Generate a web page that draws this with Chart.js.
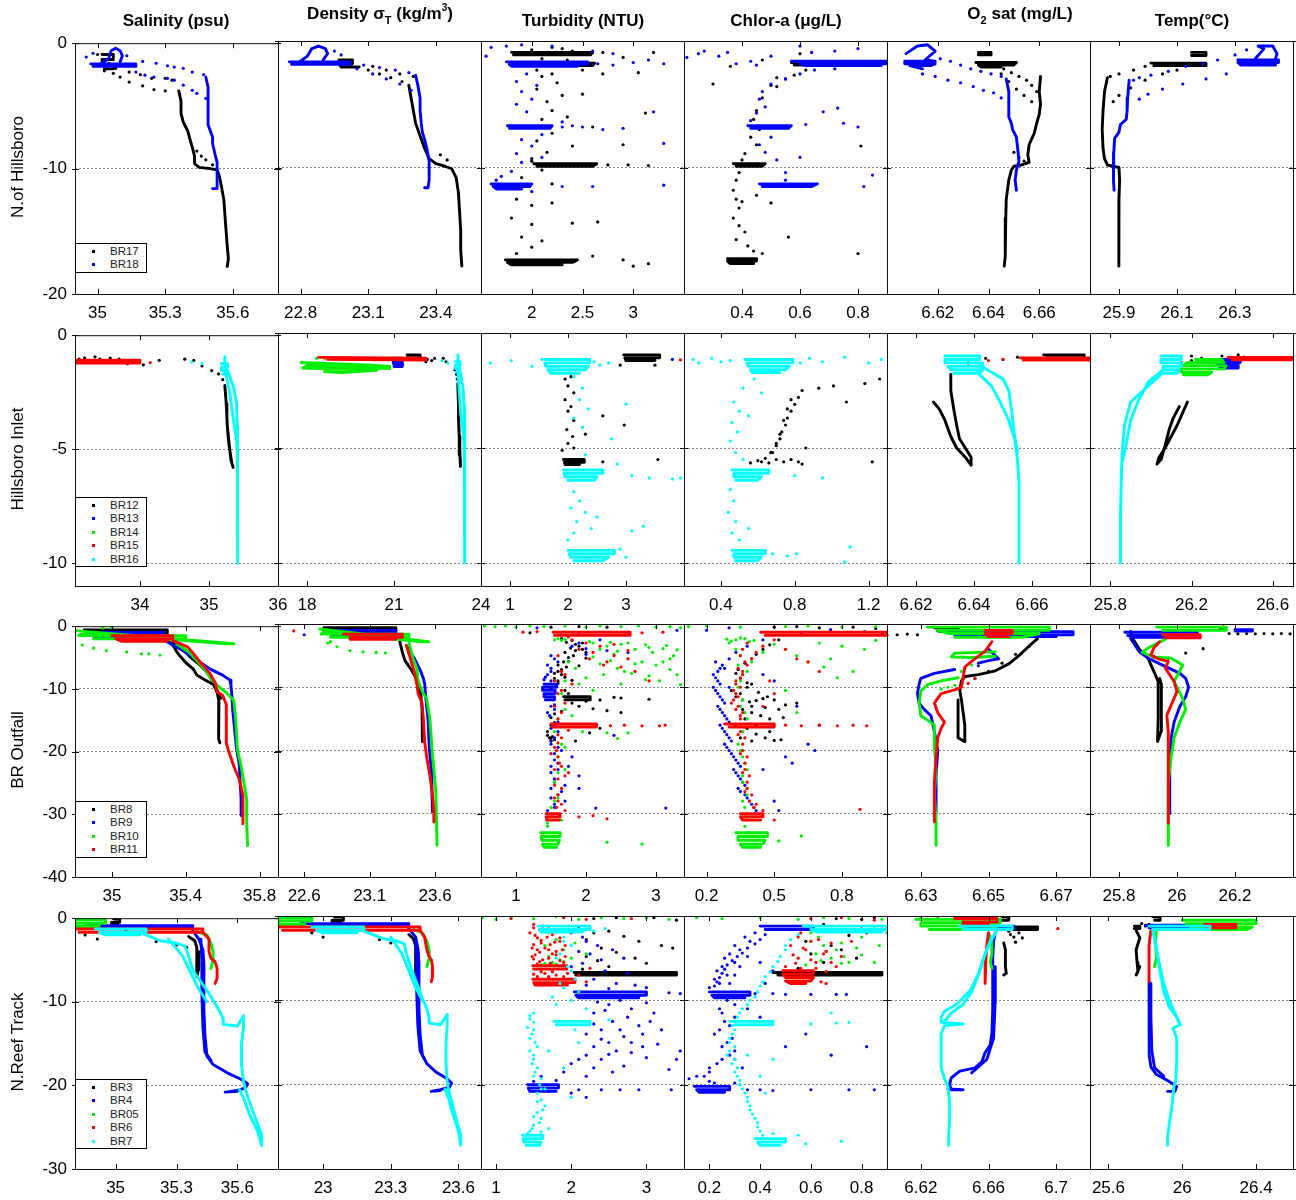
<!DOCTYPE html>
<html>
<head>
<meta charset="utf-8">
<script src="https://cdn.jsdelivr.net/npm/chart.js@4.4.1/dist/chart.umd.min.js"></script>
<style>
  body { margin: 0; background: #fff; }
  #fig { position: relative; width: 1296px; height: 1200px; font-family: "Liberation Sans", Arial, sans-serif; color: #000; overflow: hidden; }
  #fig canvas { position: absolute; }
  .head { position: absolute; z-index: 5; font-weight: bold; font-size: 17px; line-height: 20px; white-space: nowrap; transform: translateX(-50%); }
  .head sub { font-size: 11px; vertical-align: -5px; line-height: 0; }
  .head sup { font-size: 10px; vertical-align: 8px; line-height: 0; }
  .row-label { position: absolute; z-index: 5; font-size: 17px; white-space: nowrap; transform: translate(-50%, -50%) rotate(-90deg); }
  .legend { position: absolute; z-index: 5; left: 75px; width: 70px; border: 1px solid #000; background: #fff; padding-top: 1px; font-size: 11.5px; color: #222; }
  .legend div { position: relative; height: 13.4px; line-height: 13.4px; padding-left: 34px; }
  .legend i { position: absolute; left: 16px; top: 5px; width: 3px; height: 3px; }
</style>
</head>
<body>
<div id="fig">
  <div class="head" style="left:176px;top:11px">Salinity (psu)</div>
  <div class="head" style="left:380px;top:4px">Density σ<sub>T</sub> (kg/m<sup>3</sup>)</div>
  <div class="head" style="left:583px;top:11px">Turbidity (NTU)</div>
  <div class="head" style="left:786px;top:11px">Chlor-a (μg/L)</div>
  <div class="head" style="left:1020px;top:4px">O<sub>2</sub> sat (mg/L)</div>
  <div class="head" style="left:1192px;top:11px">Temp(°C)</div>

  <div class="row-label" style="left:18px;top:167px">N.of Hillsboro</div>
  <div class="row-label" style="left:18px;top:459px">Hillsboro Inlet</div>
  <div class="row-label" style="left:18px;top:750px">BR Outfall</div>
  <div class="row-label" style="left:18px;top:1042px">N.Reef Track</div>
</div>
<script>
// depth profiles, values as flat [x, depth, x, depth, ...] lists.
// "runs" are continuous CTD traces (drawn joined), "Dots" are loose samples.

// ---------- N. of Hillsboro: BR17, BR18 ----------
const br17Sal = [
  [35.02,-0.9, 35.07,-0.9, 35.07,-1.3, 35.02,-1.3, 35.02,-1.7, 35.07,-1.7, 35.07,-2.05, 35.03,-2.05],
  [35.36,-3.8, 35.37,-4.6, 35.37,-5.6, 35.38,-6.3, 35.40,-7.0, 35.41,-7.7, 35.42,-8.3, 35.43,-9.0, 35.43,-9.6, 35.45,-9.9, 35.50,-10.0, 35.53,-10.1, 35.54,-10.6, 35.55,-11.5, 35.56,-12.5, 35.565,-13.8, 35.57,-15.0, 35.575,-16.2, 35.58,-17.2, 35.575,-17.8]
];
const br17SalDots = [35.0,-0.9, 35.05,-1.6, 35.08,-2.0, 35.03,-2.2, 35.07,-2.4, 35.10,-2.7, 35.14,-3.1, 35.20,-3.4, 35.25,-3.7, 35.30,-3.8, 35.14,-2.3, 35.19,-2.5, 35.24,-2.8, 35.30,-2.8, 35.33,-2.95, 35.44,-8.6, 35.46,-9.0, 35.48,-9.3, 35.51,-9.7];
const br18Sal = [
  [34.97,-1.65, 35.17,-1.65, 35.17,-1.85, 34.98,-1.85],
  [35.02,-1.6, 35.05,-1.2, 35.06,-0.6, 35.08,-0.4, 35.1,-0.6, 35.11,-1.0, 35.1,-1.5],
  [35.48,-2.7, 35.49,-3.5, 35.49,-4.5, 35.49,-5.5, 35.49,-6.5, 35.50,-7.0, 35.51,-7.5, 35.51,-8.0, 35.52,-8.8, 35.53,-9.5, 35.53,-10.2, 35.53,-11.0, 35.53,-11.6, 35.51,-11.6]
];
const br18SalDots = [34.95,-1.1, 34.98,-0.8, 35.13,-1.0, 35.2,-1.45, 35.26,-1.6, 35.31,-1.8, 35.34,-1.9, 35.38,-2.0, 35.42,-2.3, 35.47,-2.5, 35.17,-2.3, 35.21,-2.55, 35.25,-2.7, 35.31,-2.8, 35.34,-2.95, 35.38,-3.35, 35.42,-3.75, 35.44,-4.0, 35.48,-4.4];

const br17Dens = [
  [22.97,-1.5, 23.03,-1.5, 23.03,-1.8, 22.97,-1.8, 22.98,-2.05, 23.06,-2.05],
  [23.28,-3.5, 23.29,-4.5, 23.30,-5.5, 23.31,-6.5, 23.33,-7.5, 23.35,-8.5, 23.37,-9.3, 23.40,-9.7, 23.44,-9.9, 23.47,-10.1, 23.49,-10.8, 23.50,-12.0, 23.505,-13.5, 23.51,-15.0, 23.51,-16.5, 23.515,-17.8]
];
const br17DensDots = [23.1,-2.3, 23.15,-2.6, 23.2,-2.9, 23.25,-3.2, 23.12,-2.0, 23.18,-2.3, 23.24,-2.6, 23.3,-2.8, 23.42,-9.0, 23.45,-9.4];
const br18Dens = [
  [22.75,-1.65, 23.02,-1.65, 23.02,-1.85, 22.76,-1.85],
  [22.8,-1.6, 22.83,-1.2, 22.85,-0.6, 22.88,-0.4, 22.91,-0.6, 22.92,-1.0, 22.9,-1.5],
  [23.31,-2.7, 23.32,-3.5, 23.33,-4.5, 23.33,-5.5, 23.335,-6.5, 23.34,-7.2, 23.35,-7.8, 23.36,-8.5, 23.37,-9.5, 23.37,-10.2, 23.37,-11.0, 23.365,-11.6, 23.35,-11.6]
];
const br18DensDots = [23.08,-1.9, 23.15,-2.1, 23.22,-2.3, 23.28,-2.5, 23.05,-2.2, 23.12,-2.6, 23.18,-3.0, 23.24,-3.4, 23.29,-3.9, 22.95,-0.8, 22.98,-1.1];

const br17Tur = [
  [1.8,-0.9, 2.6,-0.9, 2.58,-1.1, 1.82,-1.1],
  [1.8,-1.75, 2.62,-1.75, 2.6,-1.95, 1.85,-1.95],
  [2.02,-9.7, 2.64,-9.7, 2.6,-9.9, 2.05,-9.9],
  [1.74,-17.3, 2.45,-17.3, 2.4,-17.5, 1.76,-17.5, 1.8,-17.7, 2.3,-17.7]
];
const br17TurDots = [2.1,-2.8, 2.25,-3.3, 2.05,-3.8, 2.3,-4.3, 2.15,-4.8, 2.5,-4.2, 2.2,-5.5, 2.35,-6.0, 2.1,-6.2, 2.6,-6.8, 2.2,-7.3, 2.05,-7.9, 2.4,-8.3, 2.9,-8.2, 2.15,-8.8, 3.12,-5.7, 2.0,-9.3, 1.9,-10.8, 2.2,-11.3, 1.85,-12.5, 2.0,-13.0, 2.2,-12.8, 1.8,-14.0, 2.0,-14.5, 2.4,-14.4, 2.65,-14.3, 1.9,-15.5, 2.1,-15.8, 2.0,-16.3, 1.85,-16.8, 2.6,-17.0, 2.9,-17.3, 3.0,-17.8, 3.15,-17.6, 2.3,-0.6, 2.9,-1.3, 3.05,-2.5, 2.5,-2.3, 2.7,-2.6, 2.0,-0.7, 2.2,-0.5, 2.4,-0.8, 2.7,-0.9, 3.2,-0.9, 2.1,-1.4, 2.35,-1.5, 2.05,-2.3, 2.2,-2.6, 2.75,-9.8, 2.95,-9.8, 3.15,-9.85, 2.0,-9.5, 2.1,-10.2];
const br18Tur = [
  [1.75,-1.65, 2.55,-1.65, 2.55,-1.85, 1.78,-1.85, 1.8,-2.0, 2.45,-2.0],
  [1.76,-6.7, 2.2,-6.7, 2.18,-6.9, 1.78,-6.9],
  [1.6,-11.3, 2.0,-11.3, 1.98,-11.5, 1.62,-11.5, 1.65,-11.7, 1.9,-11.7]
];
const br18TurDots = [1.6,-0.5, 1.75,-0.4, 1.9,-0.3, 1.55,-1.2, 3.3,-1.8, 3.15,-1.5, 2.8,-1.0, 2.6,-0.8, 2.2,-0.4, 1.95,-2.6, 1.85,-3.2, 2.05,-3.5, 1.9,-4.0, 2.0,-4.6, 1.85,-5.0, 1.95,-5.6, 2.3,-6.4, 2.5,-6.8, 2.7,-7.0, 2.9,-6.9, 3.2,-5.6, 3.3,-8.1, 2.1,-7.4, 1.9,-7.8, 2.0,-8.3, 1.85,-8.9, 2.1,-9.2, 1.9,-9.6, 1.8,-10.3, 1.7,-10.7, 1.65,-11.0, 2.3,-11.5, 2.6,-11.5, 3.3,-11.4, 2.0,-11.9, 2.65,-1.8, 2.8,-1.9, 3.0,-1.7, 2.3,-6.8, 2.4,-6.7];

const br17Chl = [
  [0.57,-1.7, 0.70,-1.7, 0.70,-1.9, 0.58,-1.9],
  [0.37,-9.7, 0.48,-9.7, 0.47,-9.9, 0.38,-9.9],
  [0.35,-17.2, 0.45,-17.2, 0.45,-17.4, 0.35,-17.4, 0.36,-17.6, 0.44,-17.6]
];
const br17ChlDots = [0.6,-1.0, 0.62,-2.3, 0.58,-2.7, 0.55,-3.0, 0.52,-2.9, 0.5,-3.5, 0.47,-4.5, 0.45,-5.5, 0.44,-6.2, 0.46,-7.0, 0.43,-7.6, 0.45,-8.2, 0.41,-8.9, 0.40,-9.4, 0.39,-10.4, 0.38,-11.0, 0.37,-11.8, 0.38,-12.5, 0.39,-13.2, 0.37,-14.0, 0.39,-14.6, 0.41,-15.1, 0.38,-15.7, 0.42,-16.2, 0.44,-16.6, 0.47,-16.8, 0.40,-12.7, 0.45,-12.2, 0.5,-12.8, 0.56,-15.5, 0.80,-16.8, 0.81,-8.3, 0.52,-3.6, 0.3,-3.4, 0.36,-2.0, 0.47,-1.5];
const br18Chl = [
  [0.57,-1.6, 0.9,-1.6, 0.9,-1.8, 0.6,-1.8, 0.62,-1.95, 0.88,-1.95],
  [0.42,-6.7, 0.57,-6.7, 0.56,-6.9, 0.43,-6.9],
  [0.46,-11.3, 0.66,-11.3, 0.64,-11.5, 0.47,-11.5]
];
const br18ChlDots = [0.21,-1.3, 0.25,-1.0, 0.27,-0.8, 0.32,-1.2, 0.35,-0.9, 0.38,-1.8, 0.43,-1.6, 0.5,-1.2, 0.45,-1.9, 0.6,-0.4, 0.64,-0.9, 0.72,-0.8, 0.8,-0.6, 0.72,-2.2, 0.65,-2.3, 0.6,-2.6, 0.55,-3.0, 0.5,-3.4, 0.47,-4.0, 0.46,-4.6, 0.48,-5.2, 0.45,-5.7, 0.43,-6.3, 0.5,-7.6, 0.46,-8.2, 0.48,-8.8, 0.52,-9.4, 0.55,-10.4, 0.6,-9.2, 0.62,-6.6, 0.68,-5.6, 0.73,-5.3, 0.75,-6.5, 0.8,-6.8, 0.85,-10.6, 0.82,-11.5, 0.55,-11.0];

const br17O2 = [
  [6.636,-0.9, 6.641,-0.9, 6.641,-1.1, 6.636,-1.1],
  [6.635,-1.7, 6.651,-1.7, 6.65,-1.9, 6.636,-1.9, 6.637,-2.05, 6.645,-2.05],
  [6.6605,-2.8, 6.660,-4.0, 6.6605,-5.0, 6.660,-5.8, 6.659,-6.5, 6.658,-7.3, 6.656,-8.2, 6.6555,-9.0, 6.656,-9.6, 6.653,-9.8, 6.650,-9.9, 6.649,-10.2, 6.648,-11.0, 6.647,-12.5, 6.6468,-14.0, 6.6466,-15.5, 6.6466,-17.0, 6.6462,-17.8]
];
const br17O2Dots = [6.646,-2.2, 6.649,-2.5, 6.652,-2.8, 6.655,-3.1, 6.657,-3.5, 6.659,-4.0, 6.645,-2.6, 6.648,-3.2, 6.651,-3.8, 6.654,-4.3, 6.657,-4.8, 6.650,-8.8, 6.652,-9.2, 6.654,-9.5];
const br18O2 = [
  [6.6075,-1.0, 6.612,-0.4, 6.616,-0.3, 6.619,-0.8, 6.615,-1.5, 6.619,-1.6, 6.607,-1.6, 6.607,-1.8, 6.619,-1.8, 6.617,-1.95, 6.609,-1.95, 6.614,-2.2],
  [6.647,-3.0, 6.648,-4.0, 6.648,-5.0, 6.648,-6.0, 6.649,-6.5, 6.6495,-7.0, 6.651,-7.6, 6.6515,-8.5, 6.652,-9.5, 6.651,-10.2, 6.6505,-11.0, 6.651,-11.8]
];
const br18O2Dots = [6.621,-1.4, 6.625,-1.6, 6.629,-1.9, 6.633,-2.2, 6.637,-2.4, 6.641,-2.6, 6.645,-2.8, 6.614,-2.6, 6.619,-2.8, 6.624,-3.1, 6.629,-3.3, 6.634,-3.6, 6.638,-3.9, 6.642,-4.1, 6.645,-4.5];

const br17Temp = [
  [26.01,-1.75, 26.2,-1.75, 26.2,-1.95, 26.02,-1.95],
  [26.15,-0.9, 26.2,-0.9, 26.2,-1.15, 26.15,-1.15],
  [25.86,-2.9, 25.85,-4.0, 25.845,-5.5, 25.842,-7.0, 25.845,-8.5, 25.85,-9.3, 25.86,-9.8, 25.88,-9.9, 25.90,-10.0, 25.902,-11.0, 25.90,-12.5, 25.898,-14.0, 25.90,-15.5, 25.90,-17.0, 25.90,-17.8]
];
const br17TempDots = [25.99,-2.0, 25.95,-2.3, 25.9,-2.6, 25.87,-2.8, 26.1,-2.3, 26.05,-2.6, 25.99,-3.1, 25.94,-3.7, 25.9,-4.3, 25.88,-4.8];
const br18Temp = [
  [26.31,-1.5, 26.45,-1.5, 26.45,-1.7, 26.31,-1.7, 26.32,-1.9, 26.44,-1.9],
  [26.37,-1.4, 26.40,-0.6, 26.38,-0.4, 26.43,-0.4, 26.445,-1.0, 26.44,-1.4],
  [25.935,-3.1, 25.93,-4.5, 25.928,-5.5, 25.925,-6.2, 25.905,-6.6, 25.90,-7.2, 25.885,-7.7, 25.882,-8.8, 25.88,-10.0, 25.882,-11.0, 25.883,-11.8]
];
const br18TempDots = [26.34,-0.7, 26.30,-1.1, 26.24,-1.5, 26.19,-1.8, 26.13,-2.0, 26.07,-2.4, 26.01,-2.7, 25.97,-2.9, 25.95,-3.1, 26.27,-2.6, 26.2,-3.0, 26.12,-3.4, 26.05,-3.8, 26.0,-4.2, 25.97,-4.6];

// ---------- Hillsboro Inlet: BR12 - BR16 ----------
const br12Sal = [[35.23,-2.2, 35.25,-3.0, 35.26,-3.6, 35.27,-4.2, 35.29,-4.8, 35.31,-5.2, 35.33,-5.6, 35.35,-5.8, 35.32,-5.5, 35.3,-5.0, 35.28,-4.4, 35.26,-3.8]];
const br12SalDots = [33.12,-1.05, 33.2,-1.0, 33.28,-1.1, 33.35,-0.95, 33.42,-1.05, 33.5,-1.2, 33.57,-1.0, 33.62,-1.15, 33.7,-1.05, 33.82,-1.25, 33.9,-1.15, 34.05,-1.3, 34.28,-1.1, 34.65,-1.05, 34.78,-1.1, 34.9,-1.35, 35.04,-1.55, 35.14,-1.7, 35.2,-1.95];
const br15Sal = [[33.06,-1.1, 34.0,-1.1, 34.0,-1.22, 33.06,-1.22]];
const br15SalDots = [34.15,-1.2];
const br16Sal = [
  [35.18,-1.25, 35.27,-1.25, 35.27,-1.4, 35.18,-1.4, 35.18,-1.55, 35.26,-1.55, 35.25,-1.7, 35.2,-1.7],
  [35.22,-1.25, 35.23,-0.95],
  [35.24,-1.3, 35.3,-1.8, 35.36,-2.3, 35.40,-3.0, 35.41,-4.0, 35.415,-5.0, 35.415,-6.0, 35.415,-7.5, 35.415,-9.0, 35.415,-10.0],
  [35.24,-1.6, 35.3,-2.5, 35.33,-3.2, 35.37,-4.0, 35.40,-4.6, 35.41,-5.0]
];
const br16SalDots = [34.75,-1.18, 34.9,-1.25];

const br12Dens = [
  [21.45,-0.95, 21.9,-0.95, 21.9,-1.08, 21.45,-1.08],
  [23.2,-2.2, 23.22,-3.0, 23.23,-3.8, 23.25,-4.5, 23.27,-5.0, 23.28,-5.5, 23.29,-5.8, 23.27,-5.3, 23.25,-4.6, 23.22,-3.6]
];
const br12DensDots = [22.1,-1.25, 22.4,-1.1, 22.7,-1.1, 22.8,-1.25, 23.1,-1.6, 23.16,-1.8, 23.18,-2.0, 22.15,-1.15, 22.3,-1.2];
const br13Dens = [[20.98,-1.1, 21.3,-1.1, 21.3,-1.22, 20.98,-1.22, 20.98,-1.34, 21.3,-1.34, 21.28,-1.46, 21.0,-1.46]];
const br14Dens = [[17.8,-1.28, 20.2,-1.4, 20.85,-1.45, 20.85,-1.55, 18.0,-1.42, 17.85,-1.52, 20.4,-1.62, 19.2,-1.72, 18.6,-1.68]];
const br14DensDots = [18.33,-1.1, 18.6,-1.1, 18.9,-1.08];
const br15Dens = [[18.4,-1.06, 22.1,-1.1, 22.1,-1.18, 18.7,-1.14]];
const br16Dens = [
  [23.12,-1.25, 23.28,-1.25, 23.28,-1.4, 23.12,-1.4, 23.12,-1.55, 23.26,-1.55, 23.24,-1.7, 23.15,-1.7],
  [23.2,-1.25, 23.21,-0.95],
  [23.22,-1.3, 23.3,-1.8, 23.38,-2.4, 23.42,-3.2, 23.43,-4.0, 23.44,-5.0, 23.44,-6.5, 23.44,-8.0, 23.44,-10.0],
  [23.2,-1.6, 23.25,-2.5, 23.3,-3.5, 23.38,-4.3, 23.43,-5.0]
];
const br16DensDots = [22.65,-1.2, 22.85,-1.3];

const br12Tur = [
  [2.96,-0.95, 3.58,-0.95, 3.58,-1.08, 2.98,-1.08, 3.0,-1.2, 3.5,-1.2],
  [1.92,-5.5, 2.28,-5.5, 2.28,-5.62, 1.94,-5.62, 1.95,-5.72, 2.2,-5.72]
];
const br12TurDots = [2.9,-1.4, 3.5,-1.4, 2.05,-1.9, 2.0,-2.3, 2.1,-2.6, 1.95,-2.9, 2.05,-3.2, 2.0,-3.4, 2.1,-3.8, 1.98,-4.2, 2.08,-4.5, 2.0,-4.8, 1.9,-5.1, 2.1,-5.0, 2.6,-3.6, 2.97,-4.0, 2.3,-4.4, 3.55,-5.5, 2.6,-5.6, 1.95,-2.0];
const br13TurDots = [3.8,-1.15];
const br15TurDots = [3.94,-1.17];
const br16Tur = [
  [1.6,-1.15, 2.37,-1.15, 2.37,-1.3, 1.6,-1.3, 1.62,-1.45, 2.35,-1.45, 2.3,-1.6, 1.65,-1.6, 1.7,-1.75, 2.2,-1.75],
  [1.92,-5.95, 2.6,-5.95, 2.6,-6.1, 1.93,-6.1, 1.95,-6.25, 2.5,-6.25, 2.45,-6.4, 2.0,-6.4],
  [2.0,-9.45, 2.8,-9.45, 2.8,-9.6, 2.02,-9.6, 2.05,-9.75, 2.7,-9.75, 2.6,-9.9, 2.1,-9.9]
];
const br16TurDots = [0.66,-1.3, 1.02,-1.2, 1.38,-1.45, 1.55,-1.15, 2.45,-1.25, 2.55,-1.4, 2.7,-1.3, 2.1,-1.9, 2.25,-2.4, 2.2,-2.9, 2.35,-3.3, 2.1,-3.7, 2.25,-4.1, 3.0,-3.1, 2.75,-4.6, 2.3,-5.3, 2.85,-5.7, 3.1,-6.2, 3.4,-6.3, 3.8,-6.35, 3.94,-6.3, 2.1,-6.9, 2.2,-7.3, 2.05,-7.6, 2.3,-7.8, 2.5,-8.0, 2.15,-8.2, 2.4,-8.5, 2.1,-8.7, 3.3,-8.4, 3.1,-8.6, 2.0,-9.0, 2.9,-9.4, 3.0,-9.75, 2.35,-9.9];

const br12ChlDots = [0.84,-2.5, 0.82,-2.8, 0.80,-3.1, 0.78,-3.4, 0.76,-3.7, 0.75,-4.0, 0.73,-4.3, 0.72,-4.6, 0.70,-4.9, 0.68,-5.2, 0.64,-5.45, 0.6,-5.55, 0.56,-5.65, 0.78,-2.9, 0.76,-3.3, 0.74,-3.8, 0.72,-4.4, 0.7,-4.8, 0.67,-5.2, 0.62,-5.6, 0.66,-5.65, 0.70,-5.5, 0.74,-5.6, 0.78,-5.5, 0.82,-5.6, 0.84,-5.7, 0.93,-2.4, 1.01,-2.3, 1.08,-3.0, 1.18,-2.2, 1.26,-2.0, 0.86,-5.0, 1.22,-5.6];
const br16Chl = [
  [0.53,-1.15, 0.79,-1.15, 0.79,-1.3, 0.54,-1.3, 0.55,-1.45, 0.77,-1.45, 0.75,-1.6, 0.56,-1.6, 0.57,-1.72, 0.72,-1.72],
  [0.46,-5.95, 0.66,-5.95, 0.66,-6.1, 0.47,-6.1, 0.47,-6.25, 0.62,-6.25, 0.6,-6.4, 0.48,-6.4],
  [0.46,-9.45, 0.64,-9.45, 0.64,-9.6, 0.47,-9.6, 0.47,-9.75, 0.62,-9.75, 0.6,-9.9, 0.48,-9.9]
];
const br16ChlDots = [0.25,-1.15, 0.28,-1.3, 0.35,-1.1, 0.4,-1.25, 0.45,-1.2, 0.83,-1.3, 0.88,-1.1, 0.95,-1.25, 1.07,-1.05, 1.2,-1.3, 1.27,-1.15, 0.58,-2.0, 0.52,-2.4, 0.47,-3.0, 0.5,-3.4, 0.46,-3.9, 0.49,-4.3, 0.45,-4.7, 0.48,-5.2, 0.52,-5.5, 0.55,-3.6, 0.62,-2.6, 0.8,-6.2, 0.95,-6.3, 0.45,-6.8, 0.47,-7.3, 0.44,-7.8, 0.48,-8.2, 0.46,-8.7, 0.5,-9.0, 0.55,-8.5, 0.68,-9.6, 0.76,-9.7, 0.81,-9.6, 1.07,-9.95, 1.1,-9.3];

const br12O2 = [
  [6.664,-0.95, 6.678,-0.95, 6.678,-1.08, 6.665,-1.08],
  [6.632,-1.8, 6.632,-2.5, 6.633,-3.3, 6.634,-4.0, 6.635,-4.6, 6.637,-5.0, 6.639,-5.4, 6.639,-5.75, 6.637,-5.4, 6.634,-5.0, 6.632,-4.5, 6.630,-3.8, 6.628,-3.3, 6.626,-3.0]
];
const br12O2Dots = [6.644,-1.1, 6.65,-1.15, 6.655,-1.05, 6.66,-1.1, 6.638,-1.3];
const br15O2 = [[6.656,-1.08, 6.68,-1.08, 6.68,-1.18, 6.657,-1.18]];
const br15O2Dots = [6.65,-1.15, 6.645,-1.2];
const br16O2 = [
  [6.630,-1.0, 6.642,-1.0, 6.642,-1.15, 6.630,-1.15, 6.630,-1.3, 6.643,-1.3, 6.643,-1.45, 6.631,-1.45, 6.632,-1.6, 6.643,-1.6, 6.642,-1.75, 6.633,-1.75],
  [6.641,-1.7, 6.646,-2.3, 6.649,-3.0, 6.652,-3.8, 6.654,-4.6, 6.655,-5.5, 6.6555,-6.5, 6.6555,-8.0, 6.6555,-10.0],
  [6.642,-1.4, 6.650,-2.0, 6.652,-2.5, 6.653,-3.4, 6.654,-4.5, 6.655,-5.2]
];

const br12Temp = [[26.18,-3.0, 26.16,-3.4, 26.13,-4.0, 26.10,-4.5, 26.07,-5.0, 26.04,-5.4, 26.03,-5.7, 26.05,-5.5, 26.07,-4.9, 26.09,-4.2, 26.11,-3.7, 26.14,-3.2]];
const br12TempDots = [26.2,-1.0, 26.25,-1.1, 26.35,-1.0, 26.43,-0.95, 26.46,-1.05, 26.3,-1.15, 26.15,-1.3, 26.2,-1.2];
const br13Temp = [[26.32,-1.15, 26.44,-1.15, 26.44,-1.28, 26.32,-1.28, 26.33,-1.4, 26.43,-1.4, 26.43,-1.52, 26.34,-1.52]];
const br14Temp = [[26.22,-1.15, 26.35,-1.15, 26.36,-1.28, 26.18,-1.28, 26.16,-1.42, 26.37,-1.42, 26.36,-1.56, 26.15,-1.56, 26.15,-1.7, 26.3,-1.7, 26.28,-1.82, 26.16,-1.82]];
const br15Temp = [[26.38,-1.06, 26.7,-1.06, 26.7,-1.16, 26.4,-1.16]];
const br16Temp = [
  [26.05,-1.0, 26.15,-1.0, 26.15,-1.15, 26.05,-1.15, 26.05,-1.3, 26.15,-1.3, 26.15,-1.45, 26.06,-1.45, 26.06,-1.6, 26.14,-1.6, 26.13,-1.75, 26.06,-1.75],
  [26.05,-1.8, 26.0,-2.2, 25.95,-2.6, 25.9,-3.0, 25.87,-4.0, 25.86,-5.0, 25.855,-6.0, 25.85,-8.0, 25.85,-10.0],
  [26.06,-1.6, 25.99,-2.1, 25.94,-2.9, 25.9,-3.8, 25.875,-5.0, 25.86,-5.6]
];

// ---------- BR Outfall: BR8 - BR11 ----------
const br8Sal = [
  [34.85,-0.6, 35.3,-0.6, 35.3,-1.1, 34.88,-1.1, 34.9,-1.6, 35.25,-1.6],
  [35.3,-2.3, 35.33,-3.0, 35.35,-4.0, 35.37,-4.8, 35.40,-5.8, 35.44,-6.8, 35.46,-7.8, 35.5,-8.5, 35.55,-9.3, 35.57,-10.5, 35.58,-12.0, 35.58,-14.0, 35.575,-16.0, 35.58,-18.0, 35.585,-18.6],
  [35.33,-2.5, 35.38,-3.5, 35.42,-4.8, 35.47,-6.0, 35.52,-7.5, 35.56,-9.5, 35.59,-11.5]
];
const br9Sal = [
  [34.86,-1.0, 35.28,-1.0, 35.28,-1.5, 34.9,-1.5, 34.95,-1.9, 35.25,-1.9],
  [35.28,-2.2, 35.38,-3.8, 35.46,-5.4, 35.53,-6.8, 35.6,-7.8, 35.64,-8.6, 35.645,-9.5, 35.65,-11.0, 35.655,-13.5, 35.665,-16.5, 35.675,-19.5, 35.69,-22.0, 35.695,-25.0, 35.70,-27.5, 35.70,-30.2]
];
const br10Sal = [
  [34.8,-0.7, 35.66,-2.8, 35.62,-2.8, 34.85,-1.0, 34.82,-1.5, 35.4,-1.5, 35.4,-2.0, 34.9,-2.0],
  [35.35,-2.8, 35.42,-4.2, 35.47,-5.8, 35.51,-7.2, 35.54,-8.5, 35.58,-9.7, 35.62,-10.6, 35.66,-11.8, 35.67,-14.5, 35.675,-17.0, 35.68,-19.6, 35.70,-22.3, 35.715,-24.9, 35.73,-27.5, 35.73,-31.0, 35.735,-35.0]
];
const br10SalDots = [34.84,-3.0, 34.9,-3.5, 34.97,-3.9, 35.08,-4.1, 35.16,-4.4, 35.2,-4.4, 35.26,-4.6, 34.95,-0.3, 35.0,-0.2];
const br11Sal = [
  [35.0,-1.5, 35.33,-1.5, 35.33,-2.0, 35.02,-2.0, 35.05,-2.4, 35.3,-2.4],
  [35.33,-2.3, 35.41,-3.3, 35.44,-4.3, 35.48,-5.8, 35.53,-7.5, 35.56,-9.0, 35.57,-10.5, 35.6,-11.0, 35.62,-12.5, 35.62,-15.0, 35.62,-18.6, 35.63,-19.7, 35.66,-22.3, 35.69,-24.4, 35.71,-27.0, 35.71,-29.5, 35.71,-31.5]
];

const br8Dens = [
  [22.75,-0.6, 23.3,-0.6, 23.3,-1.1, 22.78,-1.1, 22.8,-1.6, 23.25,-1.6],
  [23.33,-2.8, 23.35,-4.5, 23.37,-5.8, 23.42,-7.3, 23.47,-9.1, 23.49,-11.0, 23.5,-13.5, 23.5,-16.0, 23.505,-18.6]
];
const br9Dens = [
  [22.75,-1.0, 23.3,-1.0, 23.3,-1.5, 22.8,-1.5, 22.85,-1.9, 23.3,-1.9],
  [23.38,-3.4, 23.44,-5.4, 23.49,-7.5, 23.51,-8.6, 23.52,-9.5, 23.53,-12.0, 23.545,-15.0, 23.555,-19.5, 23.57,-23.0, 23.575,-26.5, 23.58,-29.7]
];
const br9DensDots = [22.6,-1.7];
const br10Dens = [
  [22.72,-0.8, 23.55,-2.8, 23.5,-2.8, 22.75,-1.2, 22.73,-1.6, 23.4,-1.6, 23.4,-2.1, 22.8,-2.1],
  [23.40,-3.0, 23.43,-5.4, 23.46,-7.0, 23.47,-9.0, 23.5,-10.6, 23.535,-11.8, 23.56,-15.0, 23.575,-19.5, 23.59,-23.0, 23.605,-26.5, 23.61,-31.0, 23.615,-35.0]
];
const br10DensDots = [22.78,-3.0, 22.85,-3.6, 22.95,-4.2, 23.05,-4.4, 23.15,-4.5, 23.22,-4.6, 22.8,-2.8];
const br11Dens = [
  [22.9,-1.6, 23.35,-1.6, 23.35,-2.1, 22.95,-2.1, 22.95,-2.4, 23.3,-2.4],
  [23.38,-3.4, 23.41,-5.4, 23.44,-7.5, 23.46,-9.5, 23.47,-11.0, 23.5,-12.5, 23.51,-15.0, 23.52,-18.6, 23.535,-21.0, 23.56,-24.0, 23.58,-27.0, 23.59,-29.5, 23.59,-31.3]
];
const br11DensDots = [22.52,-1.1];

const br8Tur = [[1.68,-11.5, 2.06,-11.5, 2.06,-12.0, 1.7,-12.0]];
const br8TurDots = [1.2,-1.4, 1.5,-0.5, 1.9,-0.4, 2.3,-0.5, 1.65,-2.3, 1.72,-2.9, 1.85,-3.2, 1.78,-3.8, 1.95,-4.0, 1.7,-4.5, 1.82,-5.0, 2.0,-5.4, 1.75,-5.9, 1.6,-6.5, 1.9,-6.6, 1.65,-7.2, 1.55,-7.8, 1.7,-8.4, 1.8,-8.9, 1.6,-9.4, 1.5,-10.2, 2.4,-11.6, 2.5,-11.7, 2.9,-11.9, 2.1,-13.4, 2.3,-13.7, 2.5,-14.0, 1.5,-14.8, 1.55,-15.6, 1.45,-17.6, 1.5,-18.1, 1.55,-18.3, 1.48,-18.0, 1.52,-17.8, 1.85,-18.5, 2.05,-17.2, 2.2,-16.5, 1.75,-2.0, 1.8,-2.6, 1.9,-3.5, 2.0,-4.5, 1.95,-3.0, 1.85,-4.2, 1.75,-5.3, 1.68,-6.0, 1.72,-6.8, 1.6,-7.5, 1.65,-8.0, 1.55,-8.6, 1.6,-9.0, 1.7,-10.5, 1.75,-11.0, 1.8,-12.5, 1.9,-13.0, 1.65,-13.8, 1.55,-14.2, 1.5,-16.0, 1.45,-17.0, 1.5,-18.5, 2.0,-12.2, 2.2,-12.0];
const br9Tur = [[1.4,-9.5, 1.58,-9.5, 1.58,-10.0, 1.38,-10.0, 1.38,-10.5, 1.56,-10.5, 1.56,-11.0, 1.4,-11.0, 1.4,-11.5, 1.55,-11.5, 1.55,-12.0, 1.42,-12.0]];
const br9TurDots = [1.3,-0.6, 1.9,-1.5, 2.6,-1.3, 3.3,-1.0, 1.8,-3.5, 2.0,-3.9, 2.3,-4.2, 2.6,-4.5, 1.6,-6.0, 1.5,-7.0, 1.45,-8.0, 1.4,-8.8, 1.55,-13.5, 1.48,-14.5, 1.6,-15.5, 2.4,-17.6, 1.5,-19.0, 1.55,-20.5, 1.6,-22.0, 1.75,-22.5, 1.5,-23.5, 1.55,-25.0, 1.9,-24.0, 1.65,-26.5, 1.5,-27.5, 1.55,-28.5, 1.45,-29.5, 2.14,-29.1, 3.14,-29.1, 1.9,-26.0, 1.7,-28.0, 1.8,-21.0, 1.5,-5.0, 1.55,-5.5, 1.45,-6.5, 1.5,-7.5, 1.42,-8.4, 1.5,-9.0, 1.55,-12.8, 1.5,-13.0, 1.45,-14.0, 1.55,-16.0, 1.5,-16.5, 1.6,-17.0, 1.55,-18.0, 1.5,-18.5, 1.6,-19.5, 1.55,-21.5, 1.5,-22.5, 1.6,-23.0, 1.55,-24.5, 1.5,-26.0, 1.6,-27.0, 1.55,-29.0, 1.65,-20.0, 1.7,-25.5, 2.0,-4.8, 1.9,-3.0, 2.2,-2.5];
const br10Tur = [[1.35,-33.0, 1.63,-33.0, 1.63,-33.6, 1.36,-33.6, 1.37,-34.2, 1.62,-34.2, 1.6,-34.8, 1.38,-34.8, 1.4,-35.3, 1.58,-35.3]];
const br10TurDots = [0.55,-0.3, 0.7,-0.4, 0.85,-0.3, 1.0,-0.5, 1.2,-0.3, 1.4,-0.4, 1.7,-0.3, 2.0,-0.5, 2.2,-0.3, 2.5,-0.4, 2.75,-0.3, 3.0,-0.5, 3.2,-0.4, 3.35,-0.6, 1.6,-2.3, 1.55,-2.5, 1.7,-2.4, 1.65,-2.6, 2.1,-3.0, 2.3,-3.5, 2.5,-3.2, 2.7,-4.0, 2.9,-3.7, 3.1,-3.9, 3.3,-4.1, 2.4,-4.8, 2.6,-5.5, 2.8,-6.0, 3.0,-6.5, 3.2,-7.2, 2.2,-6.3, 2.45,-7.0, 2.65,-7.8, 2.9,-8.2, 3.35,-9.6, 2.0,-8.5, 1.9,-9.5, 1.65,-11.0, 1.7,-13.5, 1.8,-14.5, 1.95,-17.0, 2.3,-17.2, 2.6,-17.2, 2.45,-18.1, 1.65,-19.0, 1.6,-21.0, 1.7,-23.0, 1.55,-25.0, 1.6,-27.5, 1.5,-29.0, 1.65,-31.0, 1.45,-32.0, 2.3,-34.5, 2.8,-34.8, 2.05,-2.8, 2.35,-2.9, 2.6,-3.0, 2.85,-3.3, 3.15,-3.4, 2.2,-4.0, 2.45,-4.3, 2.95,-4.5, 3.25,-5.0, 2.1,-5.2, 2.35,-5.8, 2.7,-6.3, 3.1,-6.0, 2.55,-7.5, 2.85,-8.8, 3.05,-9.0, 2.25,-8.0, 2.5,-9.5, 3.3,-8.0, 3.2,-5.5, 1.75,-6.0, 1.85,-7.0, 1.7,-9.0, 2.1,-10.5, 1.6,-15.0, 1.55,-17.0, 1.7,-19.5, 1.6,-23.5, 1.65,-26.0, 1.55,-28.0, 1.5,-30.0, 1.45,-31.5];
const br11Tur = [
  [1.53,-1.3, 2.63,-1.3, 2.63,-1.8, 1.55,-1.8],
  [1.5,-15.8, 2.15,-15.8, 2.15,-16.3, 1.52,-16.3],
  [1.43,-30.0, 1.63,-30.0, 1.63,-30.5, 1.43,-30.5, 1.44,-31.0, 1.62,-31.0]
];
const br11TurDots = [1.1,-1.3, 1.3,-1.2, 2.8,-1.4, 3.1,-1.3, 1.9,-4.0, 2.1,-4.5, 2.4,-5.0, 2.6,-5.5, 2.3,-6.0, 2.5,-6.8, 2.7,-7.5, 2.9,-9.0, 1.6,-5.0, 1.65,-7.5, 1.55,-9.0, 1.6,-11.0, 1.7,-12.5, 1.65,-14.0, 2.35,-16.1, 2.55,-16.0, 2.8,-16.1, 3.05,-16.1, 3.13,-16.0, 1.6,-17.5, 1.55,-19.5, 1.6,-21.0, 1.65,-22.5, 1.7,-24.0, 1.55,-25.5, 1.6,-27.0, 1.65,-28.5, 1.9,-30.5, 2.1,-30.3, 2.3,-30.8, 1.5,-20.5, 1.75,-23.5, 1.75,-2.0, 1.8,-2.5, 2.0,-3.0, 2.2,-3.5, 2.4,-3.2, 2.6,-4.2, 2.05,-5.5, 2.25,-6.5, 1.7,-8.0, 1.8,-9.5, 1.65,-10.5, 1.55,-13.0, 1.6,-15.0, 1.75,-16.8, 1.65,-18.0, 1.6,-18.8, 1.58,-20.0, 1.62,-22.0, 1.55,-23.0, 1.6,-24.5, 1.65,-26.0, 1.55,-27.5, 1.6,-28.0, 1.58,-29.0, 1.7,-29.5];

const br8ChlDots = [0.5,-0.5, 0.6,-0.4, 0.7,-0.6, 0.85,-0.5, 0.95,-0.7, 0.52,-2.5, 0.48,-3.3, 0.45,-4.0, 0.42,-4.8, 0.40,-5.5, 0.37,-6.2, 0.34,-7.2, 0.33,-7.8, 0.35,-8.6, 0.38,-9.3, 0.31,-10.5, 0.33,-11.5, 0.36,-12.0, 0.39,-12.3, 0.42,-12.1, 0.45,-11.8, 0.36,-13.5, 0.4,-14.0, 0.44,-14.5, 0.48,-15.0, 0.38,-16.5, 0.42,-17.4, 0.46,-18.0, 0.5,-18.4, 0.52,-13.5, 0.54,-14.8, 0.6,-12.5, 0.35,-18.0, 0.33,-16.0, 0.4,-9.5, 0.38,-10.0, 0.43,-10.8, 0.47,-11.5, 0.5,-12.0, 0.35,-11.0, 0.4,-13.0, 0.46,-13.2, 0.55,-12.8, 0.37,-15.0, 0.42,-16.0, 0.48,-17.0, 0.53,-18.3, 0.4,-18.5];
const br9ChlDots = [0.2,-1.0, 0.3,-0.6, 0.62,-1.4, 0.75,-0.9, 0.9,-1.2, 0.98,-1.6, 0.45,-2.5, 0.38,-3.5, 0.33,-4.5, 0.3,-5.5, 0.27,-6.5, 0.25,-7.5, 0.24,-8.5, 0.26,-9.5, 0.24,-10.5, 0.26,-11.5, 0.28,-12.5, 0.26,-13.5, 0.28,-14.5, 0.3,-15.5, 0.27,-16.5, 0.29,-17.5, 0.31,-18.5, 0.29,-19.5, 0.31,-20.5, 0.33,-21.5, 0.35,-22.5, 0.33,-23.5, 0.35,-24.5, 0.37,-25.5, 0.35,-26.5, 0.38,-27.5, 0.4,-28.5, 0.42,-29.5, 0.55,-21.0, 0.58,-22.0, 0.45,-23.0, 0.5,-28.0, 0.52,-29.5, 0.3,-10.0, 0.28,-7.0, 0.7,-16.0, 0.24,-6.0, 0.26,-7.0, 0.23,-8.0, 0.25,-9.0, 0.23,-10.0, 0.25,-11.0, 0.27,-12.0, 0.25,-13.0, 0.27,-14.0, 0.29,-15.0, 0.26,-16.0, 0.28,-17.0, 0.3,-18.0, 0.28,-19.0, 0.3,-20.0, 0.32,-21.0, 0.34,-22.0, 0.32,-23.0, 0.34,-24.0, 0.36,-25.0, 0.34,-26.0, 0.37,-27.0, 0.39,-28.0, 0.41,-29.0, 0.45,-8.0, 0.5,-9.0, 0.6,-13.0, 0.65,-19.0, 0.68,-20.0];
const br10Chl = [[0.33,-33.0, 0.47,-33.0, 0.47,-33.6, 0.34,-33.6, 0.34,-34.2, 0.46,-34.2, 0.45,-34.8, 0.35,-34.8, 0.36,-35.3, 0.44,-35.3]];
const br10ChlDots = [0.12,-0.4, 0.2,-0.3, 0.35,-0.5, 0.55,-0.4, 0.65,-0.3, 0.8,-0.5, 0.95,-0.4, 0.29,-2.4, 0.33,-2.5, 0.37,-2.3, 0.41,-2.6, 0.31,-2.7, 0.35,-2.2, 0.39,-2.8, 0.5,-3.2, 0.55,-4.0, 0.6,-5.0, 0.65,-6.0, 0.72,-6.8, 0.78,-8.5, 0.85,-7.5, 0.45,-4.5, 0.4,-6.0, 0.38,-7.5, 0.35,-9.0, 0.33,-11.0, 0.35,-13.0, 0.38,-15.0, 0.36,-17.0, 0.34,-19.0, 0.36,-21.0, 0.38,-23.0, 0.36,-25.0, 0.38,-27.0, 0.37,-29.0, 0.38,-31.0, 0.6,-14.0, 0.62,-33.5, 0.52,-34.3, 0.55,-10.5, 0.3,-3.0, 0.33,-4.0, 0.35,-5.0, 0.34,-6.5, 0.36,-8.0, 0.34,-10.0, 0.36,-12.0, 0.37,-14.0, 0.35,-16.0, 0.37,-18.0, 0.35,-20.0, 0.37,-22.0, 0.36,-24.0, 0.38,-26.0, 0.36,-28.0, 0.38,-30.0, 0.37,-32.0, 0.7,-3.0, 0.8,-3.5, 0.9,-4.0, 0.75,-5.5, 0.95,-2.6];
const br11Chl = [
  [0.44,-1.3, 1.0,-1.3, 1.0,-1.8, 0.46,-1.8],
  [0.28,-15.8, 0.5,-15.8, 0.5,-16.3, 0.3,-16.3],
  [0.35,-30.0, 0.45,-30.0, 0.45,-30.5, 0.35,-30.5, 0.36,-31.0, 0.44,-31.0]
];
const br11ChlDots = [0.5,-2.5, 0.45,-3.5, 0.42,-4.5, 0.4,-5.5, 0.55,-4.0, 0.6,-5.5, 0.38,-6.5, 0.36,-7.5, 0.35,-8.5, 0.33,-9.5, 0.32,-10.5, 0.34,-11.5, 0.31,-12.5, 0.33,-13.5, 0.35,-14.5, 0.55,-16.0, 0.62,-16.1, 0.7,-16.0, 0.78,-16.1, 0.85,-16.0, 0.91,-16.1, 0.34,-17.5, 0.36,-19.0, 0.35,-20.5, 0.37,-22.0, 0.36,-23.5, 0.38,-25.0, 0.37,-26.5, 0.39,-28.0, 0.41,-29.0, 0.88,-29.3, 0.5,-31.0, 0.65,-6.0, 0.7,-7.5, 0.38,-3.0, 0.36,-4.0, 0.35,-5.0, 0.37,-6.0, 0.34,-7.0, 0.36,-8.0, 0.33,-9.0, 0.35,-10.0, 0.33,-11.0, 0.32,-12.0, 0.34,-13.0, 0.36,-14.0, 0.35,-15.0, 0.35,-17.0, 0.37,-18.0, 0.36,-20.0, 0.38,-21.0, 0.37,-23.0, 0.39,-24.0, 0.38,-26.0, 0.4,-27.0, 0.42,-28.5, 0.45,-29.5, 0.48,-9.0, 0.5,-11.0, 0.45,-13.0];

const br8O2 = [
  [6.634,-0.6, 6.641,-0.6, 6.641,-1.1, 6.635,-1.1],
  [6.6645,-2.3, 6.663,-3.0, 6.661,-4.0, 6.659,-5.0, 6.656,-6.3, 6.652,-7.4, 6.647,-8.0, 6.643,-8.3, 6.642,-9.0, 6.6415,-10.5, 6.642,-12.0, 6.6425,-14.0, 6.643,-16.0, 6.643,-18.0, 6.643,-18.6, 6.641,-18.0, 6.641,-15.0, 6.641,-12.0]
];
const br8O2Dots = [6.620,-1.7, 6.623,-1.7, 6.626,-1.6, 6.629,-1.7, 6.662,-3.5, 6.658,-4.8, 6.654,-6.2, 6.650,-7.5, 6.646,-8.6, 6.642,-9.2];
const br9O2 = [
  [6.636,-1.2, 6.675,-1.2, 6.675,-1.7, 6.64,-1.7, 6.645,-2.0, 6.67,-2.0],
  [6.650,-4.0, 6.652,-5.0, 6.653,-5.5, 6.65,-5.8, 6.647,-6.2],
  [6.640,-7.2, 6.634,-7.8, 6.630,-8.6, 6.6295,-9.5, 6.629,-11.0, 6.6295,-12.5, 6.631,-13.5, 6.633,-14.5, 6.634,-17.0, 6.635,-20.0, 6.6345,-24.0, 6.6345,-28.0, 6.6345,-30.0]
];
const br9O2Dots = [6.647,-6.6, 6.643,-7.0];
const br10O2 = [
  [6.632,-0.5, 6.668,-0.5, 6.668,-1.0, 6.635,-1.0, 6.638,-1.5, 6.665,-1.5, 6.66,-2.1, 6.64,-2.1],
  [6.652,-4.4, 6.640,-4.6, 6.639,-5.2, 6.645,-5.3, 6.652,-5.1],
  [6.641,-8.5, 6.636,-9.0, 6.632,-9.6, 6.630,-10.6, 6.6295,-12.5, 6.630,-14.5, 6.632,-15.2, 6.634,-16.0, 6.634,-19.0, 6.6345,-23.0, 6.634,-27.0, 6.6345,-31.0, 6.6345,-35.0]
];
const br10O2Dots = [6.64,-9.7, 6.638,-10.0, 6.636,-10.3, 6.645,-6.5, 6.642,-7.5];
const br11O2 = [
  [6.649,-1.0, 6.657,-1.0, 6.657,-1.5, 6.649,-1.5, 6.65,-2.0, 6.656,-2.0],
  [6.651,-2.8, 6.649,-4.3, 6.645,-5.9, 6.643,-6.8, 6.6425,-8.5, 6.642,-10.0, 6.640,-10.4, 6.636,-11.0, 6.634,-12.5, 6.635,-14.0, 6.637,-15.5, 6.636,-16.5, 6.635,-18.0, 6.6345,-21.0, 6.634,-25.0, 6.634,-29.0, 6.634,-31.3]
];
const br11O2Dots = [6.646,-8.6, 6.644,-9.4];

const br8Temp = [[25.84,-1.2, 25.85,-2.5, 25.87,-4.0, 25.90,-5.4, 25.925,-8.0, 25.935,-9.1, 25.935,-12.0, 25.935,-15.0, 25.933,-18.6, 25.945,-17.0, 25.947,-13.0, 25.945,-9.5, 25.94,-8.6]];
const br8TempDots = [25.88,-4.5, 25.92,-5.2, 25.97,-5.4, 26.03,-4.6, 26.09,-3.9, 26.15,-0.8, 26.16,-0.5, 26.18,-1.5, 26.21,-1.55, 26.24,-1.5, 26.27,-1.55, 26.30,-1.5, 26.33,-1.55, 26.36,-1.5, 26.39,-1.55];
const br9Temp = [
  [25.82,-1.3, 26.07,-1.3, 26.07,-1.8, 25.83,-1.8, 25.85,-2.1, 26.0,-2.1],
  [26.2,-0.9, 26.26,-0.9, 26.26,-1.1, 26.2,-1.1],
  [25.84,-2.3, 25.87,-4.4, 25.9,-5.4, 25.95,-6.5, 26.01,-7.8, 26.03,-8.6, 26.04,-10.0, 26.03,-11.5, 26.01,-13.0, 25.99,-15.5, 25.98,-18.0, 25.975,-22.0, 25.975,-26.0, 25.975,-30.0]
];
const br10Temp = [
  [25.93,-0.5, 26.17,-0.5, 26.17,-1.0, 25.95,-1.0],
  [25.96,-2.4, 25.9,-3.8, 25.88,-4.5, 25.92,-5.2, 25.98,-5.4, 26.02,-6.5, 25.99,-9.1, 26.02,-11.8, 26.03,-13.5, 26.01,-15.5, 25.99,-18.0, 25.98,-21.0, 25.97,-25.0, 25.97,-30.0, 25.97,-35.0]
];
const br11Temp = [
  [25.95,-1.7, 26.08,-1.7, 26.08,-2.2, 25.96,-2.2],
  [25.94,-2.8, 25.92,-3.8, 25.91,-4.9, 25.935,-5.5, 25.97,-5.9, 25.96,-7.0, 25.99,-9.1, 26.0,-10.7, 25.98,-12.8, 25.965,-14.4, 25.97,-17.0, 25.97,-20.0, 25.97,-25.0, 25.97,-31.5]
];

// ---------- N. Reef Track: BR3 - BR7 ----------
const br3Sal = [
  [34.99,-0.1, 35.02,-0.1, 35.02,-0.5, 34.98,-0.5, 34.98,-0.8, 35.01,-0.8],
  [35.36,-2.2, 35.39,-2.7, 35.40,-3.5, 35.40,-4.5, 35.40,-5.5, 35.40,-6.5, 35.40,-7.0, 35.41,-6.0, 35.41,-4.0]
];
const br3SalDots = [34.85,-2.0, 34.91,-2.5, 35.05,-1.5, 35.2,-2.8, 35.3,-3.2, 35.35,-3.5];
const br4Sal = [
  [34.85,-0.9, 35.38,-0.9, 35.38,-1.2, 34.9,-1.2],
  [35.38,-1.5, 35.41,-2.5, 35.43,-3.8, 35.435,-5.5, 35.435,-8.5, 35.435,-11.0, 35.44,-14.0, 35.45,-16.5, 35.48,-17.5, 35.55,-18.5, 35.62,-19.3, 35.65,-19.8, 35.64,-20.3, 35.6,-20.6, 35.54,-20.8, 35.6,-20.7],
  [35.42,-2.5, 35.425,-5.0, 35.425,-9.0, 35.43,-13.0, 35.44,-16.0, 35.47,-17.0]
];
const br5Sal = [
  [34.8,-0.2, 34.95,-0.2, 34.95,-0.6, 34.8,-0.6, 34.8,-1.0, 34.92,-1.0],
  [35.4,-1.6, 35.45,-2.0, 35.47,-3.0, 35.48,-4.0, 35.48,-5.0, 35.47,-6.0]
];
const br6Sal = [
  [34.8,-1.3, 35.43,-1.3, 35.43,-1.7, 34.82,-1.7],
  [35.43,-1.7, 35.46,-2.5, 35.46,-4.0, 35.47,-4.8, 35.49,-5.2, 35.5,-6.0, 35.5,-7.2, 35.49,-7.8]
];
const br7Sal = [
  [34.9,-1.3, 35.15,-1.3, 35.15,-1.7, 34.92,-1.7, 34.95,-2.0, 35.12,-2.0],
  [35.13,-1.8, 35.22,-2.7, 35.3,-3.0, 35.34,-3.3, 35.36,-4.5, 35.38,-6.2, 35.42,-7.6, 35.46,-9.0, 35.48,-9.8, 35.51,-11.0, 35.53,-12.0, 35.53,-12.7, 35.6,-12.9, 35.63,-11.7],
  [35.63,-11.7, 35.63,-13.0, 35.62,-15.0, 35.62,-17.5, 35.63,-19.5, 35.64,-20.5, 35.66,-22.0, 35.69,-24.0, 35.72,-26.0, 35.72,-27.2, 35.7,-25.5, 35.66,-23.5, 35.63,-21.5, 35.61,-20.5],
  [35.26,-2.5, 35.33,-4.5, 35.37,-6.5, 35.41,-8.5, 35.45,-10.0]
];

const br3Dens = [
  [23.05,-0.1, 23.09,-0.1, 23.09,-0.5, 23.04,-0.5, 23.04,-0.8, 23.08,-0.8],
  [23.38,-2.2, 23.40,-2.7, 23.41,-3.5, 23.41,-4.5, 23.41,-5.5, 23.41,-6.5, 23.41,-7.0, 23.42,-6.0, 23.42,-4.0]
];
const br3DensDots = [22.95,-2.0, 23.0,-2.5, 23.1,-1.7, 23.25,-2.8, 23.3,-3.2];
const br4Dens = [
  [22.9,-0.9, 23.38,-0.9, 23.38,-1.2, 22.95,-1.2],
  [23.38,-1.5, 23.41,-2.5, 23.42,-3.8, 23.425,-5.5, 23.425,-8.5, 23.425,-11.0, 23.43,-14.0, 23.44,-16.5, 23.46,-17.5, 23.5,-18.5, 23.55,-19.3, 23.57,-19.8, 23.56,-20.3, 23.52,-20.6, 23.48,-20.8, 23.52,-20.7],
  [23.41,-2.5, 23.415,-5.0, 23.415,-9.0, 23.42,-13.0, 23.43,-16.0, 23.45,-17.0]
];
const br5Dens = [
  [22.8,-0.2, 22.95,-0.2, 22.95,-0.6, 22.8,-0.6, 22.8,-1.0, 22.92,-1.0],
  [23.4,-1.6, 23.44,-2.0, 23.46,-3.0, 23.47,-4.0, 23.47,-5.0, 23.46,-6.0]
];
const br6Dens = [
  [22.8,-1.3, 23.43,-1.3, 23.43,-1.7, 22.82,-1.7],
  [23.43,-1.7, 23.45,-2.5, 23.46,-4.0, 23.47,-4.8, 23.48,-5.2, 23.485,-6.0, 23.485,-7.2, 23.48,-7.8]
];
const br7Dens = [
  [22.95,-1.3, 23.18,-1.3, 23.18,-1.7, 22.97,-1.7, 23.0,-2.0, 23.15,-2.0],
  [23.18,-1.8, 23.27,-2.7, 23.33,-3.0, 23.36,-3.3, 23.37,-4.5, 23.39,-6.2, 23.41,-7.6, 23.43,-9.0, 23.44,-9.8, 23.46,-11.0, 23.47,-12.0, 23.47,-12.7, 23.52,-12.9, 23.55,-11.7],
  [23.55,-11.7, 23.55,-13.0, 23.545,-15.0, 23.545,-17.5, 23.55,-19.5, 23.555,-20.5, 23.57,-22.0, 23.59,-24.0, 23.61,-26.0, 23.61,-27.2, 23.6,-25.5, 23.575,-23.5, 23.555,-21.5, 23.54,-20.5],
  [23.3,-2.5, 23.35,-4.5, 23.38,-6.5, 23.41,-8.5, 23.44,-10.0]
];

const br3Tur = [[2.04,-6.7, 3.4,-6.7, 3.4,-7.0, 2.06,-7.0]];
const br3TurDots = [1.9,-0.1, 2.3,-0.3, 2.6,-0.2, 3.1,-0.2, 3.4,-0.5, 2.1,-1.5, 2.3,-2.0, 2.5,-1.8, 2.2,-2.8, 2.7,-2.4, 2.9,-3.0, 3.2,-3.5, 2.4,-3.8, 2.6,-4.3, 2.2,-4.8, 2.85,-5.0, 3.0,-5.6, 2.35,-5.3, 2.5,-6.0, 2.15,-6.3, 3.35,-3.8];
const br4Tur = [
  [2.04,-9.0, 3.0,-9.0, 3.0,-9.4, 2.06,-9.4, 2.1,-9.7, 2.9,-9.7],
  [1.42,-20.0, 1.83,-20.0, 1.83,-20.4, 1.43,-20.4, 1.45,-20.8, 1.8,-20.8]
];
const br4TurDots = [2.0,-2.0, 2.2,-3.0, 2.1,-4.2, 2.4,-5.2, 2.0,-6.0, 2.3,-7.5, 2.6,-8.0, 3.0,-8.5, 3.3,-9.1, 3.45,-9.2, 2.5,-10.5, 2.8,-11.0, 2.3,-11.5, 3.1,-11.5, 2.55,-12.5, 2.9,-13.0, 2.4,-13.5, 3.2,-13.5, 2.2,-14.0, 2.7,-14.3, 2.5,-15.0, 2.3,-15.5, 2.95,-15.5, 2.6,-16.0, 2.2,-16.5, 3.0,-16.8, 2.4,-17.0, 3.4,-17.0, 2.0,-17.5, 2.7,-17.8, 2.3,-18.0, 3.3,-18.2, 1.9,-18.5, 1.6,-19.0, 1.5,-19.6, 2.1,-20.6, 2.4,-20.6, 2.65,-20.6, 2.9,-20.6, 3.33,-20.6, 2.2,-21.5, 3.45,-16.0, 2.15,-2.5, 2.35,-3.5, 2.55,-4.0, 2.25,-4.5, 2.7,-5.0, 2.15,-5.6, 2.45,-6.5, 2.75,-6.8, 2.2,-8.2, 2.5,-8.6, 2.85,-8.2, 2.35,-10.2, 2.65,-10.0, 3.0,-10.3, 2.45,-11.2, 2.75,-12.0, 3.05,-12.5, 2.3,-12.8, 2.65,-13.5, 2.95,-14.0, 2.4,-14.6, 2.8,-15.0, 3.15,-15.2, 2.5,-16.4, 2.8,-16.2, 2.1,-17.0, 2.55,-18.5, 2.2,-19.0, 1.8,-19.5, 1.7,-20.8, 2.0,-21.0];
const br5TurDots = [0.82,-0.2, 1.0,-0.4, 1.2,-0.2, 1.5,-0.3, 1.8,-0.1, 2.1,-0.4, 2.4,-0.2, 2.7,-0.3, 3.0,-0.2, 3.3,-0.4, 1.7,-2.0, 1.8,-2.8, 1.65,-3.5, 1.9,-4.0, 1.7,-4.8, 1.85,-5.2, 1.65,-5.6, 1.75,-5.5, 1.8,-5.7, 1.9,-5.4, 1.6,-5.8, 2.0,-5.0, 2.2,-4.5, 2.05,-3.2];
const br6Tur = [
  [1.49,-5.9, 1.94,-5.9, 1.94,-6.3, 1.5,-6.3],
  [1.49,-7.5, 2.05,-7.5, 2.05,-7.9, 1.5,-7.9, 1.52,-8.2, 1.95,-8.2]
];
const br6TurDots = [1.2,-0.3, 1.9,-0.2, 2.2,-0.4, 2.8,-0.3, 1.5,-1.4, 1.6,-1.8, 1.75,-2.2, 1.55,-2.6, 1.85,-3.0, 1.5,-3.4, 1.65,-3.8, 1.8,-4.2, 1.52,-4.6, 1.7,-5.0, 1.58,-5.4, 1.9,-5.5, 1.6,-2.9, 1.72,-3.4, 1.55,-4.0, 1.8,-4.6, 1.5,-5.1, 1.65,-6.8, 1.8,-7.0, 1.55,-7.2, 1.95,-6.8, 1.62,-1.2, 1.45,-2.0, 1.5,-1.0, 1.58,-1.6, 1.7,-1.5, 1.8,-1.9, 1.52,-2.3, 1.68,-2.5, 1.85,-2.6, 1.6,-3.2, 1.78,-3.1, 1.92,-3.5, 1.48,-3.8, 1.7,-4.0, 1.88,-4.0, 1.58,-4.3, 1.75,-4.5, 1.92,-4.8, 1.48,-4.8, 1.62,-5.2, 1.85,-5.3, 1.55,-5.7, 1.72,-5.6, 1.9,-5.9, 1.6,-6.6, 1.75,-6.6, 1.9,-7.2, 1.7,-7.2, 1.5,-6.9, 2.1,-7.0, 2.2,-7.8, 2.25,-6.2];
const br7Tur = [
  [1.56,-1.2, 2.25,-1.2, 2.25,-1.6, 1.58,-1.6, 1.6,-1.9, 2.15,-1.9],
  [1.77,-12.5, 2.25,-12.5, 2.25,-12.9, 1.8,-12.9],
  [1.35,-26.0, 1.62,-26.0, 1.62,-26.4, 1.36,-26.4, 1.37,-26.8, 1.6,-26.8, 1.58,-27.2, 1.4,-27.2]
];
const br7TurDots = [2.3,-1.8, 2.45,-1.5, 1.9,-2.5, 2.0,-3.5, 1.85,-4.5, 1.95,-6.0, 2.05,-7.5, 1.9,-8.5, 1.75,-9.6, 1.8,-10.5, 1.5,-11.5, 1.45,-12.2, 1.5,-13.5, 1.45,-14.5, 1.55,-15.5, 1.5,-16.5, 1.48,-17.5, 1.52,-18.5, 1.6,-19.3, 1.55,-21.0, 1.6,-21.8, 1.65,-22.5, 1.55,-23.3, 1.6,-24.0, 1.5,-24.8, 1.45,-25.5, 1.7,-25.2, 2.0,-21.5, 2.1,-15.0, 2.2,-11.0, 2.0,-10.0, 1.7,-16.0, 1.9,-18.0, 2.5,-12.3, 1.65,-20.5, 1.45,-11.8, 1.5,-12.6, 1.42,-13.2, 1.48,-14.0, 1.52,-15.0, 1.45,-16.0, 1.5,-17.0, 1.55,-18.0, 1.5,-19.0, 1.58,-20.0, 1.6,-20.5, 1.55,-22.0, 1.62,-23.0, 1.5,-23.8, 1.58,-24.5, 1.48,-25.2, 1.42,-25.8, 1.6,-25.6, 1.9,-3.0, 1.8,-5.0, 2.0,-6.5, 1.85,-8.0, 2.1,-9.0, 1.95,-12.9, 2.05,-13.5];

const br3Chl = [[0.45,-6.7, 0.88,-6.7, 0.88,-7.0, 0.47,-7.0]];
const br3ChlDots = [0.7,-0.3, 0.8,-0.4, 0.85,-0.2, 0.65,-1.0, 0.75,-2.3, 0.82,-2.0, 0.68,-3.5, 0.72,-4.0, 0.78,-5.0, 0.6,-4.5, 0.65,-5.5, 0.55,-6.2, 0.58,-3.0];
const br4Chl = [
  [0.4,-1.2, 0.61,-1.2, 0.61,-1.6, 0.42,-1.6],
  [0.2,-9.0, 0.36,-9.0, 0.36,-9.4, 0.21,-9.4, 0.22,-9.7, 0.34,-9.7],
  [0.14,-20.2, 0.28,-20.2, 0.28,-20.6, 0.15,-20.6, 0.16,-20.9, 0.26,-20.9]
];
const br4ChlDots = [0.38,-2.0, 0.34,-2.5, 0.36,-3.0, 0.3,-3.5, 0.32,-4.0, 0.28,-4.5, 0.26,-5.0, 0.3,-5.5, 0.25,-6.0, 0.23,-6.5, 0.27,-7.0, 0.22,-7.5, 0.24,-8.0, 0.2,-8.5, 0.4,-5.5, 0.45,-6.5, 0.42,-8.0, 0.38,-9.2, 0.45,-9.2, 0.5,-9.3, 0.6,-9.3, 0.7,-9.3, 0.74,-9.3, 0.3,-10.5, 0.25,-11.5, 0.28,-13.0, 0.22,-14.0, 0.27,-15.0, 0.3,-16.0, 0.25,-17.0, 0.33,-18.0, 0.2,-18.5, 0.15,-19.0, 0.12,-19.3, 0.2,-19.6, 0.35,-20.6, 0.4,-20.6, 0.45,-20.7, 0.6,-20.6, 0.75,-20.6, 0.85,-20.6, 0.5,-15.5, 0.68,-16.5, 0.58,-14.0, 0.82,-15.5, 0.42,-2.2, 0.4,-2.8, 0.38,-3.3, 0.35,-3.8, 0.33,-4.4, 0.31,-4.8, 0.29,-5.3, 0.27,-5.8, 0.26,-6.3, 0.25,-6.8, 0.24,-7.3, 0.23,-7.8, 0.22,-8.3, 0.35,-4.8, 0.32,-6.0, 0.3,-7.0, 0.28,-8.0, 0.27,-10.0, 0.24,-11.0, 0.3,-12.0, 0.26,-12.5, 0.24,-13.5, 0.29,-14.5, 0.25,-15.5, 0.28,-16.5, 0.23,-17.5, 0.3,-17.0, 0.2,-18.0, 0.18,-19.0, 0.22,-19.8, 0.3,-19.8, 0.35,-11.0, 0.4,-12.0];
const br5ChlDots = [0.15,-0.2, 0.25,-0.3, 0.4,-0.2, 0.55,-0.4, 0.65,-0.2, 0.75,-0.3, 0.88,-0.4, 0.6,-3.0, 0.65,-3.5, 0.7,-4.0, 0.62,-4.5, 0.68,-5.0, 0.75,-5.5, 0.85,-5.5, 0.58,-5.8, 0.7,-1.8, 0.8,-2.5, 0.9,-2.0, 0.72,-5.6, 0.63,-2.5, 0.72,-3.2, 0.78,-3.8, 0.66,-4.2, 0.8,-4.6, 0.73,-4.8, 0.87,-3.5, 0.64,-5.3, 0.6,-2.0, 0.85,-1.5];
const br6Chl = [[0.49,-6.5, 0.61,-6.5, 0.61,-6.9, 0.49,-6.9, 0.5,-7.3, 0.61,-7.3, 0.6,-7.7, 0.5,-7.7, 0.52,-8.0, 0.58,-8.0]];
const br6ChlDots = [0.6,-0.3, 0.72,-0.2, 0.85,-0.5, 0.55,-2.5, 0.6,-3.0, 0.52,-3.5, 0.58,-4.0, 0.65,-4.5, 0.55,-5.0, 0.62,-5.5, 0.7,-6.0, 0.8,-1.5, 0.88,-1.2, 0.5,-6.0, 0.56,-6.2, 0.64,-7.8, 0.66,-8.0, 0.56,-2.0, 0.63,-2.8, 0.68,-3.2, 0.57,-3.8, 0.66,-4.2, 0.53,-4.6, 0.6,-5.2, 0.68,-5.5, 0.54,-5.6, 0.72,-4.8, 0.76,-3.0, 0.62,-6.2, 0.66,-6.6];
const br7Chl = [
  [0.57,-1.2, 0.9,-1.2, 0.9,-1.6, 0.6,-1.6, 0.62,-1.9, 0.88,-1.9],
  [0.28,-12.5, 0.45,-12.5, 0.45,-12.9, 0.3,-12.9],
  [0.38,-26.4, 0.5,-26.4, 0.5,-26.8, 0.39,-26.8, 0.4,-27.2, 0.48,-27.2]
];
const br7ChlDots = [0.55,-2.2, 0.5,-3.5, 0.48,-4.8, 0.45,-6.0, 0.42,-7.2, 0.4,-8.3, 0.38,-9.6, 0.35,-10.5, 0.32,-11.5, 0.3,-13.5, 0.28,-14.5, 0.3,-15.5, 0.27,-16.5, 0.29,-17.5, 0.3,-18.5, 0.32,-19.5, 0.33,-20.5, 0.35,-21.5, 0.36,-22.5, 0.37,-23.5, 0.39,-24.5, 0.4,-25.5, 0.55,-26.0, 0.58,-27.0, 0.72,-26.7, 0.6,-12.8, 0.7,-12.7, 0.75,-12.6, 0.68,-11.5, 0.45,-17.0, 0.42,-21.0, 0.52,-2.8, 0.5,-4.0, 0.47,-5.4, 0.44,-6.6, 0.41,-7.8, 0.39,-9.0, 0.36,-10.0, 0.33,-11.0, 0.31,-12.0, 0.29,-13.0, 0.29,-14.0, 0.28,-15.0, 0.28,-16.0, 0.3,-17.0, 0.31,-18.0, 0.31,-19.0, 0.32,-20.0, 0.34,-21.0, 0.35,-22.0, 0.36,-23.0, 0.38,-24.0, 0.39,-25.0, 0.41,-26.0, 0.45,-25.8, 0.35,-16.5, 0.4,-19.0];

const br3O2 = [
  [6.667,-1.3, 6.689,-1.3, 6.689,-1.6, 6.668,-1.6],
  [6.668,-0.1, 6.672,-0.1, 6.672,-0.5, 6.668,-0.5],
  [6.669,-3.2, 6.670,-4.0, 6.670,-5.0, 6.670,-6.0, 6.6705,-6.8, 6.669,-7.0]
];
const br3O2Dots = [6.672,-1.8, 6.673,-2.2, 6.675,-2.5, 6.676,-3.1, 6.678,-2.0, 6.68,-2.6];
const br4O2 = [
  [6.645,-1.2, 6.675,-1.2, 6.675,-1.5, 6.648,-1.5],
  [6.664,-2.0, 6.663,-3.0, 6.6625,-5.0, 6.6625,-8.0, 6.6625,-11.0, 6.662,-14.0, 6.661,-15.3, 6.658,-16.2, 6.656,-17.3, 6.652,-18.0, 6.643,-18.4, 6.638,-19.2, 6.637,-20.0, 6.638,-20.6, 6.645,-20.6, 6.636,-20.5],
  [6.664,-6.0, 6.664,-10.0, 6.663,-14.5, 6.659,-17.0, 6.65,-18.6]
];
const br5O2 = [
  [6.617,-0.4, 6.667,-0.4, 6.667,-0.8, 6.62,-0.8, 6.62,-1.2, 6.665,-1.2, 6.662,-1.6, 6.625,-1.6],
  [6.66,-2.0, 6.662,-3.0, 6.662,-4.5, 6.661,-5.5, 6.662,-6.2]
];
const br5O2Dots = [6.62,-0.2, 6.63,-0.1, 6.64,-0.3, 6.65,-0.2];
const br6O2 = [
  [6.64,-0.3, 6.665,-0.3, 6.665,-0.7, 6.645,-0.7, 6.645,-1.0, 6.66,-1.0],
  [6.66,-2.0, 6.659,-3.5, 6.6585,-5.0, 6.658,-6.5, 6.658,-8.0]
];
const br6O2Dots = [6.701,-1.5];
const br7O2 = [
  [6.643,-1.2, 6.674,-1.2, 6.674,-1.6, 6.645,-1.6],
  [6.665,-1.7, 6.66,-3.5, 6.657,-5.0, 6.654,-6.9, 6.649,-8.9, 6.641,-10.5, 6.634,-11.3, 6.632,-12.0, 6.632,-12.6, 6.645,-12.8, 6.634,-13.0, 6.632,-14.0, 6.632,-16.0, 6.632,-18.0, 6.634,-19.3, 6.636,-20.2, 6.637,-22.0, 6.637,-24.0, 6.6365,-26.0, 6.6365,-27.2],
  [6.662,-2.5, 6.658,-4.5, 6.654,-7.0, 6.650,-9.0, 6.645,-10.5, 6.638,-11.5, 6.634,-12.5]
];

const br3Temp = [
  [25.74,-1.2, 25.77,-1.2, 25.77,-1.5, 25.74,-1.5],
  [25.84,-0.1, 25.88,-0.1, 25.88,-0.5, 25.85,-0.5],
  [25.75,-1.7, 25.77,-2.6, 25.75,-4.0, 25.755,-5.5, 25.76,-6.6, 25.75,-7.0, 25.77,-6.0]
];
const br3TempDots = [25.78,-0.9, 25.8,-1.2, 25.82,-1.0];
const br4Temp = [
  [25.8,-1.1, 26.15,-1.1, 26.15,-1.4, 25.82,-1.4],
  [25.82,-7.8, 25.82,-10.0, 25.82,-13.0, 25.822,-16.5, 25.83,-17.9, 25.86,-18.8, 25.92,-19.5, 25.97,-20.2, 25.96,-20.8, 25.92,-20.8],
  [25.83,-8.0, 25.83,-12.0, 25.835,-16.0, 25.85,-18.0, 25.9,-19.0]
];
const br5Temp = [
  [26.0,-0.5, 26.4,-0.5, 26.4,-0.9, 26.02,-0.9, 26.05,-1.3, 26.38,-1.3, 26.35,-1.6, 26.1,-1.6],
  [25.86,-1.6, 25.855,-3.0, 25.86,-5.0, 25.85,-6.0]
];
const br6Temp = [
  [26.12,-1.0, 26.29,-1.0, 26.29,-1.4, 26.13,-1.4],
  [25.83,-1.7, 25.82,-3.5, 25.82,-5.5, 25.82,-7.8]
];
const br7Temp = [
  [25.82,-1.2, 26.15,-1.2, 26.15,-1.6, 25.84,-1.6],
  [25.84,-1.7, 25.86,-4.0, 25.88,-6.6, 25.9,-9.0, 25.93,-10.8, 25.97,-12.0, 25.99,-12.9, 25.95,-13.3, 25.97,-14.5, 25.97,-17.0, 25.965,-19.5, 25.955,-20.2, 25.945,-22.4, 25.93,-24.5, 25.92,-26.4, 25.92,-27.2],
  [25.85,-2.5, 25.87,-5.0, 25.9,-8.0, 25.93,-10.0, 25.96,-11.5, 25.98,-12.5]
];

// ---------- axes ----------
const depthRange = [[-20, 0], [-11, 0], [-40, 0], [-30, 0]];
const depthTicks = [[0, -10, -20], [0, -5, -10], [0, -10, -20, -30, -40], [0, -10, -20, -30]];
const xRange = [
  [[34.9, 35.8], [22.7, 23.6], [1.5, 3.5], [0.2, 0.9], [6.60, 6.68], [25.8, 26.5]],
  [[33.06, 36], [17, 24], [0.5, 4], [0.2, 1.3], [6.61, 6.68], [25.7, 26.7]],
  [[34.8, 35.9], [22.4, 23.95], [0.5, 3.4], [0.1, 1.0], [6.62, 6.68], [25.7, 26.4]],
  [[34.8, 35.8], [22.8, 23.7], [0.8, 3.5], [0.1, 0.9], [6.60, 6.72], [25.5, 26.6]]
];
const xTicks = [
  [[35, 35.3, 35.6], [22.8, 23.1, 23.4], [2, 2.5, 3], [0.4, 0.6, 0.8], [6.62, 6.64, 6.66], [25.9, 26.1, 26.3]],
  [[34, 35, 36], [18, 21, 24], [1, 2, 3], [0.4, 0.8, 1.2], [6.62, 6.64, 6.66], [25.8, 26.2, 26.6]],
  [[35, 35.4, 35.8], [22.6, 23.1, 23.6], [1, 2, 3], [0.2, 0.5, 0.8], [6.63, 6.65, 6.67], [25.8, 26, 26.2]],
  [[35, 35.3, 35.6], [23, 23.3, 23.6], [1, 2, 3], [0.2, 0.4, 0.6, 0.8], [6.62, 6.66, 6.7], [25.6, 26, 26.4]]
];

const BLACK = '#000000', BLUE = '#0000ff', GREEN = '#00ee00', RED = '#ff0000', CYAN = '#00ffff';
const NONE = [];

// casts per station group; series order: salinity, density, turbidity, chlor-a, O2, temp
const stations = [
  [
    { label: 'BR17', color: BLACK, runs: [br17Sal, br17Dens, br17Tur, br17Chl, br17O2, br17Temp], dots: [br17SalDots, br17DensDots, br17TurDots, br17ChlDots, br17O2Dots, br17TempDots] },
    { label: 'BR18', color: BLUE, runs: [br18Sal, br18Dens, br18Tur, br18Chl, br18O2, br18Temp], dots: [br18SalDots, br18DensDots, br18TurDots, br18ChlDots, br18O2Dots, br18TempDots] }
  ],
  [
    { label: 'BR12', color: BLACK, runs: [br12Sal, br12Dens, br12Tur, NONE, br12O2, br12Temp], dots: [br12SalDots, br12DensDots, br12TurDots, br12ChlDots, br12O2Dots, br12TempDots] },
    { label: 'BR13', color: BLUE, runs: [NONE, br13Dens, NONE, NONE, NONE, br13Temp], dots: [NONE, NONE, br13TurDots, NONE, NONE, NONE] },
    { label: 'BR14', color: GREEN, runs: [NONE, br14Dens, NONE, NONE, NONE, br14Temp], dots: [NONE, br14DensDots, NONE, NONE, NONE, NONE] },
    { label: 'BR15', color: RED, runs: [br15Sal, br15Dens, NONE, NONE, br15O2, br15Temp], dots: [br15SalDots, NONE, br15TurDots, NONE, br15O2Dots, NONE] },
    { label: 'BR16', color: CYAN, runs: [br16Sal, br16Dens, br16Tur, br16Chl, br16O2, br16Temp], dots: [br16SalDots, br16DensDots, br16TurDots, br16ChlDots, NONE, NONE] }
  ],
  [
    { label: 'BR8', color: BLACK, runs: [br8Sal, br8Dens, br8Tur, NONE, br8O2, br8Temp], dots: [NONE, NONE, br8TurDots, br8ChlDots, br8O2Dots, br8TempDots] },
    { label: 'BR9', color: BLUE, runs: [br9Sal, br9Dens, br9Tur, NONE, br9O2, br9Temp], dots: [NONE, br9DensDots, br9TurDots, br9ChlDots, br9O2Dots, NONE] },
    { label: 'BR10', color: GREEN, runs: [br10Sal, br10Dens, br10Tur, br10Chl, br10O2, br10Temp], dots: [br10SalDots, br10DensDots, br10TurDots, br10ChlDots, br10O2Dots, NONE] },
    { label: 'BR11', color: RED, runs: [br11Sal, br11Dens, br11Tur, br11Chl, br11O2, br11Temp], dots: [NONE, br11DensDots, br11TurDots, br11ChlDots, br11O2Dots, NONE] }
  ],
  [
    { label: 'BR3', color: BLACK, runs: [br3Sal, br3Dens, br3Tur, br3Chl, br3O2, br3Temp], dots: [br3SalDots, br3DensDots, br3TurDots, br3ChlDots, br3O2Dots, br3TempDots] },
    { label: 'BR4', color: BLUE, runs: [br4Sal, br4Dens, br4Tur, br4Chl, br4O2, br4Temp], dots: [NONE, NONE, br4TurDots, br4ChlDots, NONE, NONE] },
    { label: 'BR05', color: GREEN, runs: [br5Sal, br5Dens, NONE, NONE, br5O2, br5Temp], dots: [NONE, NONE, br5TurDots, br5ChlDots, br5O2Dots, NONE] },
    { label: 'BR6', color: RED, runs: [br6Sal, br6Dens, br6Tur, br6Chl, br6O2, br6Temp], dots: [NONE, NONE, br6TurDots, br6ChlDots, br6O2Dots, NONE] },
    { label: 'BR7', color: CYAN, runs: [br7Sal, br7Dens, br7Tur, br7Chl, br7O2, br7Temp], dots: [NONE, NONE, br7TurDots, br7ChlDots, NONE, NONE] }
  ]
];

// ---------- layout ----------
const colLeft = [75, 278, 481, 684, 887, 1090];
const rowTop = [41, 333, 624, 916];
const legendTop = [243, 497, 801, 1079];
const PW = 203, PH = 253, PAD_T = 16;
const FONT = { family: '"Liberation Sans", Arial, sans-serif', size: 17 };

const toPts = (flat) => {
  const pts = [];
  for (let i = 0; i < flat.length; i += 2) pts.push({ x: flat[i], y: flat[i + 1] });
  return pts;
};

// box, inward tick marks on all four sides
const frame = {
  id: 'frame',
  afterDraw(chart) {
    const { ctx, chartArea: a, scales: { x, y } } = chart;
    ctx.save();
    ctx.strokeStyle = '#111';
    ctx.lineWidth = 1;
    ctx.strokeRect(a.left + 0.5, a.top + 0.5, a.right - a.left, a.bottom - a.top);
    ctx.beginPath();
    x.ticks.forEach(t => {
      const px = Math.round(x.getPixelForValue(t.value)) + 0.5;
      ctx.moveTo(px, a.top); ctx.lineTo(px, a.top + 5);
      ctx.moveTo(px, a.bottom); ctx.lineTo(px, a.bottom - 5);
    });
    y.ticks.forEach(t => {
      const py = Math.round(y.getPixelForValue(t.value)) + 0.5;
      ctx.moveTo(a.left - 3, py); ctx.lineTo(a.left + 4, py);
      ctx.moveTo(a.right + 3, py); ctx.lineTo(a.right - 4, py);
    });
    ctx.stroke();
    ctx.restore();
  }
};

function panelDatasets(casts, c) {
  const sets = [];
  casts.forEach(cast => {
    cast.runs[c].forEach(run => sets.push({
      data: toPts(run), showLine: true, borderColor: cast.color, borderWidth: 2.9,
      borderJoinStyle: 'round', borderCapStyle: 'round', pointRadius: 0, tension: 0
    }));
    if (cast.dots[c].length) sets.push({
      data: toPts(cast.dots[c]), showLine: false,
      pointRadius: 1.6, pointBackgroundColor: cast.color, pointBorderWidth: 0
    });
  });
  // later casts sit on top
  return sets.reverse();
}

const fig = document.getElementById('fig');

stations.forEach((casts, r) => {
  const [dMin, dMax] = depthRange[r];
  colLeft.forEach((left, c) => {
    const first = c === 0;
    const padL = first ? 75 : 20;
    const canvas = document.createElement('canvas');
    canvas.width = padL + PW + 20;
    canvas.height = PAD_T + PH + 34;
    canvas.style.left = (left - padL) + 'px';
    canvas.style.top = (rowTop[r] - PAD_T) + 'px';
    fig.appendChild(canvas);

    const [x0, x1] = xRange[r][c];
    new Chart(canvas, {
      type: 'scatter',
      data: { datasets: panelDatasets(casts, c) },
      options: {
        responsive: false,
        animation: false,
        devicePixelRatio: 1,
        layout: { padding: { left: first ? 0 : 20, right: 20, top: PAD_T, bottom: 0 } },
        plugins: { legend: { display: false }, tooltip: { enabled: false } },
        scales: {
          x: {
            type: 'linear', min: x0, max: x1,
            afterBuildTicks: s => { s.ticks = xTicks[r][c].map(v => ({ value: v })); },
            afterFit: s => { s.height = 34; },
            grid: { display: false, drawTicks: false },
            border: { display: false },
            ticks: { font: FONT, color: '#000', padding: 9, maxRotation: 0, autoSkip: false, callback: v => String(v) }
          },
          y: {
            type: 'linear', min: dMin, max: dMax,
            afterBuildTicks: s => { s.ticks = depthTicks[r].map(v => ({ value: v })); },
            afterFit: s => { s.width = first ? 75 : 0; },
            grid: {
              drawTicks: false, lineWidth: 1,
              color: ctx => (ctx.tick && ctx.tick.value > dMin && ctx.tick.value < dMax) ? '#8a8a8a' : 'rgba(0,0,0,0)'
            },
            border: { display: false, dash: [2, 2] },
            ticks: { display: first, font: FONT, color: '#000', padding: 8, callback: v => String(v) }
          }
        }
      },
      plugins: [frame]
    });
  });

  // legend box inside the salinity panel
  const box = document.createElement('div');
  box.className = 'legend';
  box.style.top = legendTop[r] + 'px';
  casts.forEach(cast => {
    const item = document.createElement('div');
    item.innerHTML = '<i style="background:' + cast.color + '"></i>' + cast.label;
    box.appendChild(item);
  });
  fig.appendChild(box);
});
</script>
</body>
</html>
